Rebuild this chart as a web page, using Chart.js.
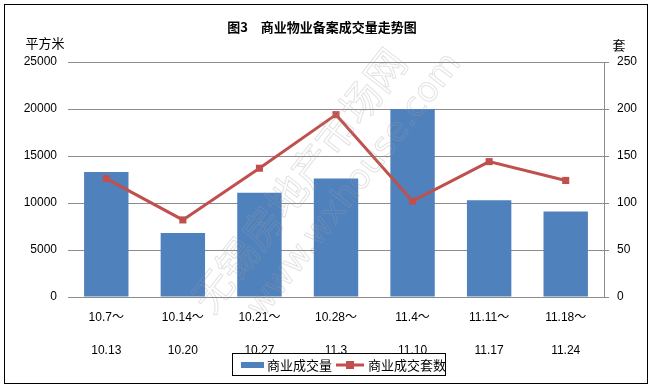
<!DOCTYPE html>
<html>
<head>
<meta charset="utf-8">
<script src="https://cdn.jsdelivr.net/npm/chart.js@4"></script>
<style>
  html, body { margin: 0; padding: 0; background: #fff; }
  #wrap { width: 654px; height: 389px; }
</style>
</head>
<body>
<div id="wrap"><canvas id="myChart" width="654" height="389"></canvas></div>
<script>
// data
const weekStart = ['10.7', '10.14', '10.21', '10.28', '11.4', '11.11', '11.18'];
const weekEnd = ['10.13', '10.20', '10.27', '11.3', '11.10', '11.17', '11.24'];
const areaSold = [13300, 6800, 11100, 12600, 20000, 10300, 9100];   // 平方米
const unitsSold = [126, 82, 137, 194, 102, 144, 124];               // 套

const fontFam = '"Liberation Sans", "Noto Sans CJK SC", sans-serif';
const cjkFam = '"Noto Sans CJK SC", sans-serif';
const blue = '#4F81BD';
const red = '#C0504D';
const gridGray = '#8C8C8C';

document.addEventListener('DOMContentLoaded', function () {
    const ctx = document.getElementById('myChart').getContext('2d');

    const decorations = {
        id: 'decorations',
        beforeDraw: (chart) => {
            const c = chart.ctx;
            c.save();
            c.fillStyle = '#fff';
            c.fillRect(0, 0, chart.width, chart.height);
            c.restore();
        },
        afterDraw: (chart) => {
            const c = chart.ctx;
            c.save();
            // outer frame
            c.strokeStyle = '#000';
            c.lineWidth = 1;
            c.strokeRect(4.5, 4.5, 643, 379);

            // title
            c.fillStyle = '#000';
            c.font = 'bold 13px ' + cjkFam;
            c.textAlign = 'center';
            c.textBaseline = 'middle';
            c.fillText('图3　商业物业备案成交量走势图', 322, 27);

            // unit labels
            c.font = '13px ' + cjkFam;
            c.fillText('平方米', 45, 43);
            c.fillText('套', 619, 45);

            // legend box
            c.strokeStyle = '#000';
            c.strokeRect(232.5, 353.5, 213, 22);
            const ly = 365;
            c.fillStyle = blue;
            c.fillRect(241, ly - 3, 23, 6);
            c.fillStyle = '#000';
            c.textAlign = 'left';
            c.font = '13px ' + cjkFam;
            c.fillText(chart.data.datasets[1].label, 267, ly);
            c.strokeStyle = red;
            c.lineWidth = 3;
            c.beginPath();
            c.moveTo(336, ly);
            c.lineTo(364, ly);
            c.stroke();
            c.fillStyle = red;
            c.fillRect(346, ly - 4, 8, 8);
            c.fillStyle = '#000';
            c.fillText(chart.data.datasets[0].label, 368, ly);

            // site watermark
            c.translate(305, 185);
            c.rotate(-52 * Math.PI / 180);
            c.strokeStyle = 'rgba(160,160,160,0.3)';
            c.lineWidth = 1;
            c.textAlign = 'center';
            c.font = '40px ' + cjkFam;
            c.strokeText('无锡房地产市场网', 0, -8);
            c.font = '34px "DejaVu Sans", sans-serif';
            c.strokeText('www.wxhouse.com', 30, 40);
            c.restore();
        }
    };

    Chart.register(decorations);

    const labels = weekStart.map((s, i) => [s + '～', weekEnd[i]]);

    new Chart(ctx, {
        data: {
            labels: labels,
            datasets: [{
                type: 'line',
                label: '商业成交套数',
                data: unitsSold,
                yAxisID: 'y1',
                borderColor: red,
                backgroundColor: red,
                borderWidth: 3,
                pointStyle: 'rect',
                pointRadius: 5,
                pointBorderWidth: 0,
                tension: 0,
                order: 0
            }, {
                type: 'bar',
                label: '商业成交量',
                data: areaSold,
                yAxisID: 'y',
                backgroundColor: blue,
                barPercentage: 0.58,
                categoryPercentage: 1,
                order: 1
            }]
        },
        options: {
            responsive: false,
            animation: false,
            layout: { padding: { top: 62, left: 0, right: 0, bottom: 22 } },
            plugins: {
                legend: { display: false },
                title: { display: false },
                tooltip: { enabled: false }
            },
            scales: {
                x: {
                    grid: { display: false, drawTicks: false },
                    border: { display: false },
                    ticks: {
                        color: '#000',
                        padding: 4,
                        maxRotation: 0,
                        autoSkip: false,
                        font: { family: fontFam, size: 12, lineHeight: 2.75 }
                    },
                    afterFit: (s) => { s.height = 70; }
                },
                y: {
                    position: 'left',
                    min: 0,
                    max: 25000,
                    ticks: {
                        stepSize: 5000,
                        color: '#000',
                        padding: 11,
                        font: { family: fontFam, size: 12 },
                        callback: (v) => String(v)
                    },
                    grid: { color: gridGray, drawTicks: false },
                    border: { display: false },
                    afterFit: (s) => { s.width = 68; }
                },
                y1: {
                    position: 'right',
                    min: 0,
                    max: 250,
                    ticks: {
                        stepSize: 50,
                        color: '#000',
                        padding: 8,
                        font: { family: fontFam, size: 12 },
                        callback: (v) => String(v)
                    },
                    grid: { drawOnChartArea: false, color: gridGray, tickLength: 5 },
                    border: { display: true, color: gridGray },
                    afterFit: (s) => { s.width = 50; }
                }
            }
        }
    });
});
</script>
</body>
</html>
